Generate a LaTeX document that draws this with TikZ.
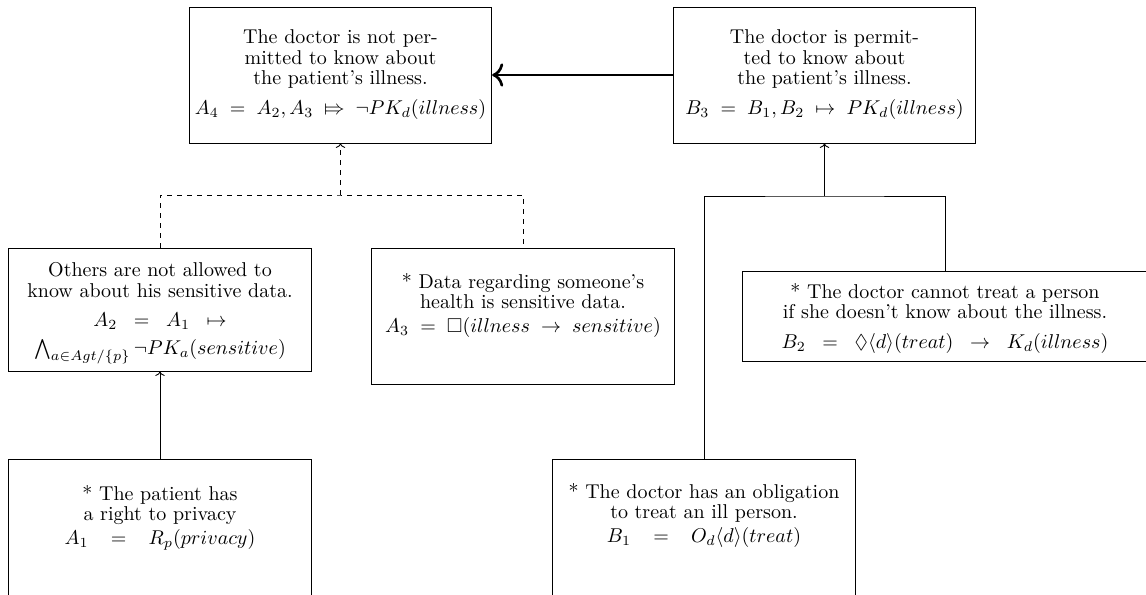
\documentclass[tikz,border=0pt]{standalone}
\usepackage{amssymb}
\usepackage{stmaryrd}
\usepackage{graphicx}
\usetikzlibrary{arrows.meta}
\newcommand{\tb}[1]{\scalebox{1.2}{\fontsize{10}{10.3}\selectfont\begin{tabular}{@{}c@{}}#1\end{tabular}}}
\begin{document}
\begin{tikzpicture}[x=0.6pt,y=-0.6pt,
  box/.style={draw, line width=0.5pt, inner sep=0pt, minimum width=181.5pt},
  txt/.style={inner sep=0pt},
  conn/.style={line width=0.5pt},
  thickconn/.style={line width=1.6pt}]
\useasboundingbox (0,0) rectangle (1146,595);
\clip (0,0) rectangle (1146,595);
% boxes
\node[box, minimum height=81.6pt] (a4) at (340.5,75) {};
\node[box, minimum height=81.6pt] (b3) at (824.5,75) {};
\node[box, minimum height=73.8pt] (a2) at (160,309.5) {};
\node[box, minimum height=81.6pt] (a3) at (523,316) {};
\node[box, minimum width=243.6pt, minimum height=54pt] (b2) at (945,316) {};
\node[box, minimum height=82.8pt] (a1) at (160,528) {};
\node[box, minimum height=82.8pt] (b1) at (704,528) {};
% texts
\node[txt] (a4t) at (340.5,75) {\tb{The doctor is not per-\\mitted to know about\\the patient's illness.\\[4.5pt]$A_4 \;=\; A_2, A_3 \;\Mapsto\; \neg PK_d(illness)$}};
\node[txt] (b3t) at (824.5,75) {\tb{The doctor is permit-\\ted to know about\\the patient's illness.\\[4.5pt]$B_3 \;=\; B_1, B_2 \;\mapsto\; PK_d(illness)$}};
\node[txt] (a2t) at (160,313) {\tb{Others are not allowed to\\know about his sensitive data.\\[4.5pt]$A_2 \;\;=\;\; A_1 \;\;\mapsto$\\[3pt]$\bigwedge_{a\in Agt/\{p\}} \neg PK_a(sensitive)$}};
\node[txt] (a3t) at (523,306) {\tb{* Data regarding someone's\\health is sensitive data.\\[1.5pt]$A_3 \;=\; \Box(illness \;\rightarrow\; sensitive)$}};
\node[txt] (b2t) at (945,319) {\tb{* The doctor cannot treat a person\\if she doesn't know about the illness.\\[4.5pt]$B_2 \;\;=\;\; \Diamond\langle d\rangle(treat) \;\;\rightarrow\;\; K_d(illness)$}};
\node[txt] (a1t) at (160,518) {\tb{* The patient has\\a right to privacy\\[1.5pt]$A_1 \;\;\;=\;\;\; R_p(privacy)$}};
\node[txt] (b1t) at (704,516) {\tb{* The doctor has an obligation\\to treat an ill person.\\[1.5pt]$B_1 \;\;\;=\;\;\; O_d\langle d\rangle(treat)$}};
% connectors
\draw[thickconn, -{To[scale=1.3]}] (b3.west) -- (a4.east);
\coordinate (aj) at (340.5,195);
\draw[conn, dashed] (a2.north) |- (aj) -| (a3.north);
\draw[conn, dashed, ->] (aj) -- (a4.south);
\draw[conn, ->] (a1.north) -- (a2.south);
\coordinate (bj) at (824.5,196);
\draw[conn] (b1.north) |- (bj) -| (b2.north);
\draw[conn, ->] (bj) -- (b3.south);
\end{tikzpicture}
\end{document}
